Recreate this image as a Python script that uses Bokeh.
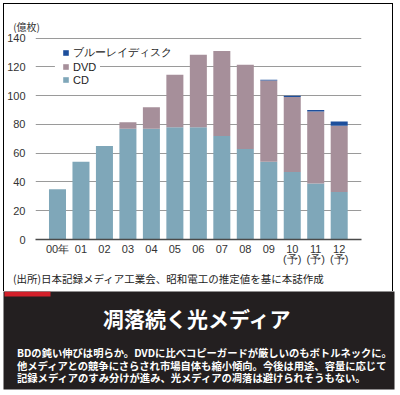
from bokeh.plotting import figure
from bokeh.models import (Range1d, FixedTicker, LegendItem, Legend, BoxAnnotation,
                          Title, ColumnDataSource)
from bokeh.embed import file_html
from bokeh.resources import INLINE
from bokeh.core.properties import value

# ---- data ----
year_labels = ["00年", "01", "02", "03", "04", "05", "06", "07", "08", "09",
               "10\n(予)", "11\n(予)", "12\n(予)"]
cd = [35, 54, 65, 77, 77, 78, 78, 72, 63, 54, 47, 39, 33]
dvd = [0, 0, 0, 4.5, 15, 36.5, 50.5, 59, 58.5, 56.5, 52, 50, 46]
bd = [0, 0, 0, 0, 0, 0, 0, 0, 0, 0.5, 1, 1, 3]
y_ticks = [0, 20, 40, 60, 80, 100, 120, 140]
series_names = ["CD", "DVD", "ブルーレイディスク"]
unit_label = "(億枚)"
source_note = "(出所)日本記録メディア工業会、昭和電工の推定値を基に本誌作成"
headline = "凋落続く光メディア"
body_lines = [
    "BDの鈍い伸びは明らか。DVDに比べコピーガードが厳しいのもボトルネックに。",
    "他メディアとの競争にさらされ市場自体も縮小傾向。今後は用途、容量に応じて",
    "記録メディアのすみ分けが進み、光メディアの凋落は避けられそうもない。",
]

colors = ["#7fa7b9", "#a68f9a", "#1d4f9c"]
JP = "Noto Sans CJK JP"
LAT = "Liberation Sans"

xs = list(range(len(cd)))
src = ColumnDataSource(dict(x=xs, cd=cd, dvd=dvd, bd=bd))

p = figure(width=390, height=288, x_range=Range1d(-0.937, 12.95), y_range=Range1d(0, 146),
           output_backend="svg", toolbar_location=None,
           min_border_left=31, min_border_right=33, min_border_top=25, min_border_bottom=53,
           styles={"margin-left": "3px", "margin-top": "3px",
                   "border-left": "1.5px solid #000", "border-top": "1.5px solid #000",
                   "border-right": "1.5px solid #000"})
p.outline_line_color = None
p.background_fill_color = "white"
p.border_fill_color = "white"

p.ygrid.grid_line_color = "#9a9a9a"
p.ygrid.grid_line_width = 1
p.xgrid.grid_line_color = None
p.yaxis.ticker = FixedTicker(ticks=y_ticks)
p.yaxis.axis_line_color = None
p.yaxis.major_tick_line_color = None
p.yaxis.minor_tick_line_color = None
p.yaxis.major_label_standoff = 4
p.yaxis.major_label_text_font = LAT
p.yaxis.major_label_text_font_size = "11px"
p.yaxis.major_label_text_color = "#333333"

p.xaxis.ticker = FixedTicker(ticks=xs)
p.xaxis.major_label_overrides = {i: lab for i, lab in enumerate(year_labels)}
p.xaxis.axis_line_color = "#4a4a4a"
p.xaxis.axis_line_width = 1.5
p.xaxis.major_tick_line_color = None
p.xaxis.minor_tick_line_color = None
p.xaxis.major_label_standoff = -3
p.xaxis.major_label_text_font = LAT
p.xaxis.major_label_text_font_size = "11px"
p.xaxis.major_label_text_line_height = 0.85
p.xaxis.major_label_text_color = "#333333"

rs = p.vbar_stack(["cd", "dvd", "bd"], x="x", width=0.725, source=src,
                  fill_color=colors, line_color=None)

# white patch behind the DVD legend entry (gridline gap)
p.add_layout(BoxAnnotation(left=-0.11, right=1.81, bottom=116, top=124.5,
                           fill_color="white", fill_alpha=1, line_color=None))

legend = Legend(items=[LegendItem(label=series_names[2], renderers=[rs[2]]),
                       LegendItem(label=series_names[1], renderers=[rs[1]]),
                       LegendItem(label=series_names[0], renderers=[rs[0]])],
                location=(27, 153), padding=0, spacing=0, margin=0,
                glyph_width=7, glyph_height=7, label_height=13, label_standoff=4,
                label_text_font=LAT, label_text_font_size="11px",
                label_text_line_height=0.9,
                label_text_color="#222222", label_text_baseline="middle",
                background_fill_alpha=0, border_line_color=None)
p.add_layout(legend)

p.add_layout(Title(text=unit_label, align="right", offset=321.5, standoff=-9,
                   vertical_align="bottom",
                   text_font=JP, text_font_size="10px", text_font_style="normal",
                   text_color="#333333"), "above")
p.add_layout(Title(text=source_note, align="left", offset=-22.5, standoff=2,
                   text_font=JP, text_font_size="10.5px", text_font_style="normal",
                   text_color="#222222"), "below")

# ---- bottom black panel (data units = page pixels) ----
q = figure(width=400, height=103, x_range=Range1d(3, 394), y_range=Range1d(390, 292),
           output_backend="svg", toolbar_location=None,
           min_border_left=3, min_border_right=6, min_border_top=0, min_border_bottom=5)
q.axis.visible = False
q.grid.visible = False
q.outline_line_color = None
q.background_fill_color = "#231f20"
q.border_fill_color = "white"
q.quad(left=[4], right=[50], top=[292], bottom=[297], fill_color="#d3202a", line_color=None)
q.text(x=[197], y=[318], text=[headline], text_font=value(JP), text_font_style="bold",
       text_font_size="21px", text_color="white", text_align="center", text_baseline="middle")
q.text(x=[16.5, 16.5, 16.5], y=[352.5, 365.5, 378], text=body_lines, text_font=value(JP),
       text_font_style="bold", text_font_size="10.3px", text_color="white",
       text_align="left", text_baseline="middle")

open("out.html", "w").write(file_html([p, q], INLINE))
